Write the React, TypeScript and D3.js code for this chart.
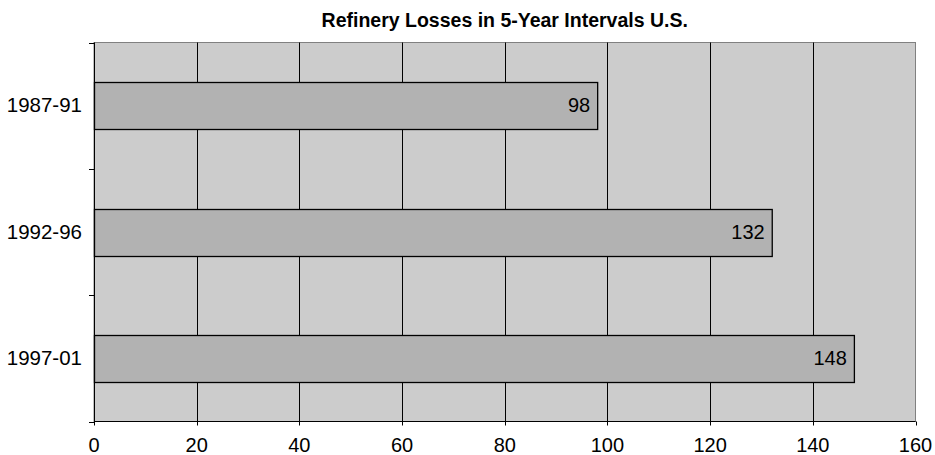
import { useEffect, useRef } from "react"
import * as d3 from "d3"

const categories = ["1987-91", "1992-96", "1997-01"]
const losses = [98, 132, 148]
const xTicks = [0, 20, 40, 60, 80, 100, 120, 140, 160]
const title = "Refinery Losses in 5-Year Intervals U.S."

export default function App() {
  const ref = useRef<SVGSVGElement>(null)

  useEffect(() => {
    const width = 935
    const height = 455
    const m = { top: 42.5, right: 19.5, bottom: 33.5, left: 94 }
    const svg = d3.select(ref.current)
    svg.selectAll("*").remove()

    const x = d3.scaleLinear().domain([0, 160]).range([m.left, width - m.right])
    const y = d3.scaleBand().domain(categories).range([m.top, height - m.bottom])
    const font = "Helvetica, Arial, 'Liberation Sans', sans-serif"

    // plot background with grey frame
    svg.append("rect")
      .attr("x", x(0)).attr("y", m.top)
      .attr("width", x(160) - x(0)).attr("height", height - m.bottom - m.top)
      .attr("fill", "#cccccc").attr("stroke", "#808080").attr("stroke-width", 1)

    // vertical grid + x ticks
    svg.append("g").selectAll("line").data(xTicks.slice(1, -1)).enter().append("line")
      .attr("x1", (d) => Math.round(x(d)) + 0.5).attr("x2", (d) => Math.round(x(d)) + 0.5)
      .attr("y1", m.top).attr("y2", height - m.bottom + 4)
      .attr("stroke", "#000")
    svg.append("g").selectAll("line").data([0, 160]).enter().append("line")
      .attr("x1", (d) => Math.round(x(d)) + 0.5).attr("x2", (d) => Math.round(x(d)) + 0.5)
      .attr("y1", height - m.bottom).attr("y2", height - m.bottom + 4)
      .attr("stroke", "#000")

    // axes lines
    svg.append("line")
      .attr("x1", x(0) + 0.5).attr("x2", x(0) + 0.5)
      .attr("y1", m.top).attr("y2", height - m.bottom)
      .attr("stroke", "#000")
    svg.append("line")
      .attr("x1", x(0)).attr("x2", x(160))
      .attr("y1", height - m.bottom).attr("y2", height - m.bottom)
      .attr("stroke", "#000")

    // y ticks at category boundaries
    const bounds = categories.map((c) => y(c) as number).concat([height - m.bottom])
    svg.append("g").selectAll("line").data(bounds).enter().append("line")
      .attr("x1", x(0) - 5).attr("x2", x(0))
      .attr("y1", (d) => Math.round(d) + 0.5).attr("y2", (d) => Math.round(d) + 0.5)
      .attr("stroke", "#000")

    // bars
    const bh = y.bandwidth() * 0.37
    const data = categories.map((c, i) => ({ c, v: losses[i] }))
    svg.append("g").selectAll("rect").data(data).enter().append("rect")
      .attr("x", x(0) + 0.5)
      .attr("y", (d) => Math.round((y(d.c) as number) + y.bandwidth() / 2 - bh / 2) + 0.5)
      .attr("width", (d) => x(d.v) - x(0))
      .attr("height", Math.round(bh))
      .attr("fill", "#b2b2b2").attr("stroke", "#000").attr("stroke-width", 1.3)

    // value labels
    svg.append("g").selectAll("text").data(data).enter().append("text")
      .attr("x", (d) => x(d.v) - 7)
      .attr("y", (d) => (y(d.c) as number) + y.bandwidth() / 2 + 6.5)
      .attr("text-anchor", "end")
      .attr("font-family", font).attr("font-size", 20)
      .attr("fill", "#000")
      .text((d) => d.v)

    // category labels
    svg.append("g").selectAll("text").data(categories).enter().append("text")
      .attr("x", 82)
      .attr("y", (d) => (y(d) as number) + y.bandwidth() / 2 + 6.5)
      .attr("text-anchor", "end")
      .attr("font-family", font).attr("font-size", 20.5)
      .attr("fill", "#000")
      .text((d) => d)

    // x tick labels
    svg.append("g").selectAll("text").data(xTicks).enter().append("text")
      .attr("x", (d) => x(d))
      .attr("y", 452)
      .attr("text-anchor", "middle")
      .attr("font-family", font).attr("font-size", 20)
      .attr("fill", "#000")
      .text((d) => d)

    // title
    svg.append("text")
      .attr("x", (x(0) + x(160)) / 2)
      .attr("y", 26.5)
      .attr("text-anchor", "middle")
      .attr("font-family", font).attr("font-size", 19.5).attr("font-weight", "bold")
      .attr("fill", "#000")
      .text(title)
  }, [])

  return (
    <svg
      ref={ref}
      width={935}
      height={455}
      style={{ position: "absolute", left: 0, top: 0, background: "#fff" }}
    />
  )
}
